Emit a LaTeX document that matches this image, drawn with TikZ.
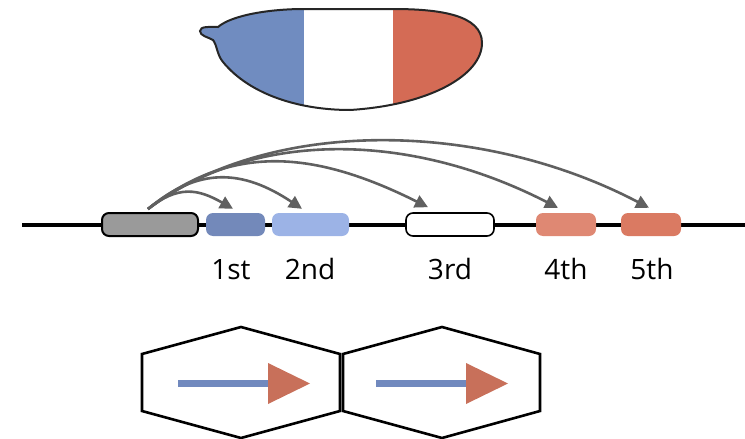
\documentclass[tikz,border=0pt]{standalone}
\usepackage{fontspec}
\setmainfont{Open Sans}
\usetikzlibrary{arrows.meta,calc}
\definecolor{embblue}{HTML}{708CC0}
\definecolor{embred}{HTML}{D46B55}
\definecolor{segA}{HTML}{7389BA}
\definecolor{segB}{HTML}{9CB3E6}
\definecolor{segD}{HTML}{DF8873}
\definecolor{segE}{HTML}{DA7A62}
\definecolor{promgray}{HTML}{9A9A9A}
\definecolor{arcgray}{HTML}{606060}
\definecolor{barblue}{HTML}{7189BE}
\definecolor{tipred}{HTML}{C8705A}
\tikzset{
  seg/.style={rounded corners=7pt, minimum height=23pt, inner sep=0pt},
  seglabel/.style={anchor=base, font=\fontsize{28}{30}\selectfont},
  reg/.style={arcgray, line width=2.6pt, -{Triangle[length=13pt,width=13pt]}},
  hexline/.style={line width=2.6pt, line join=miter},
}
\begin{document}
\begin{tikzpicture}[x=1pt,y=-1pt]
\useasboundingbox (0,0) rectangle (745,439);

% embryo with three expression domains
\def\embryo{(304,9) -- (393,9) .. controls (440,9) and (482,15) .. (482,43)
  .. controls (482,75) and (430,105) .. (350,110)
  .. controls (300,110) and (250,95) .. (223,62)
  .. controls (217,55) and (217,45) .. (213,40)
  .. controls (208,37) and (200,36) .. (200,31)
  .. controls (200,26) and (210,27) .. (218,27)
  .. controls (232,15) and (270,9) .. (304,9) -- cycle}
\begin{scope}
  \clip \embryo;
  \fill[embblue] (190,0) rectangle (304,120);
  \fill[white] (304,0) rectangle (393,120);
  \fill[embred] (393,0) rectangle (490,120);
\end{scope}
\draw[line width=2pt, black!85] \embryo;

% gene locus
\draw[line width=4pt] (22,225) -- (745,225);
\node[seg, draw=black, line width=2pt, fill=promgray, minimum width=96pt] (g) at (150,224.5) {};
\node[seg, fill=segA, minimum width=59pt] (n1) at (235.5,224.5) {};
\node[seg, fill=segB, minimum width=77pt] (n2) at (310.5,224.5) {};
\node[seg, draw=black, line width=1.6pt, fill=white, minimum width=88pt] (n3) at (450,224.5) {};
\node[seg, fill=segD, minimum width=60pt] (n4) at (566,224.5) {};
\node[seg, fill=segE, minimum width=60pt] (n5) at (651,224.5) {};

\node[seglabel] (l1) at (231,279) {1st};
\node[seglabel] (l2) at (310,279) {2nd};
\node[seglabel] (l3) at (450,279) {3rd};
\node[seglabel] (l4) at (566,279) {4th};
\node[seglabel] (l5) at (652,279) {5th};

% regulatory arcs from the promoter
\coordinate (src) at ([xshift=-2pt,yshift=3pt]g.north);
\draw[reg] (src) .. controls +(30,-24) and +(-35,-20) .. ([xshift=-2.5pt,yshift=4pt]n1.north);
\draw[reg] (src) .. controls +(50,-42) and +(-60,-40) .. ([xshift=-8.5pt,yshift=4pt]n2.north);
\draw[reg] (src) .. controls +(80,-63) and +(-120,-60) .. ([xshift=-22pt,yshift=5pt]n3.north);
\draw[reg] (src) .. controls +(105,-79) and +(-150,-77) .. ([xshift=-8pt,yshift=5pt]n4.north);
\draw[reg] (src) .. controls +(120,-91) and +(-170,-89) .. ([xshift=-2pt,yshift=5pt]n5.north);

% cells with polarity arrows
\draw[hexline] (241,327) -- (340,354) -- (340,411) -- (241,438) -- (142,411) -- (142,354) -- cycle;
\draw[hexline] (442,327) -- (540,354) -- (540,411) -- (442,438) -- (343,411) -- (343,354) -- cycle;
\fill[barblue] (178,379.5) rectangle (270,386.5);
\fill[tipred] (268,363) -- (310,383.5) -- (268,404) -- cycle;
\fill[barblue] (376,379.5) rectangle (468,386.5);
\fill[tipred] (466,363) -- (508,383.5) -- (466,404) -- cycle;
\end{tikzpicture}
\end{document}
